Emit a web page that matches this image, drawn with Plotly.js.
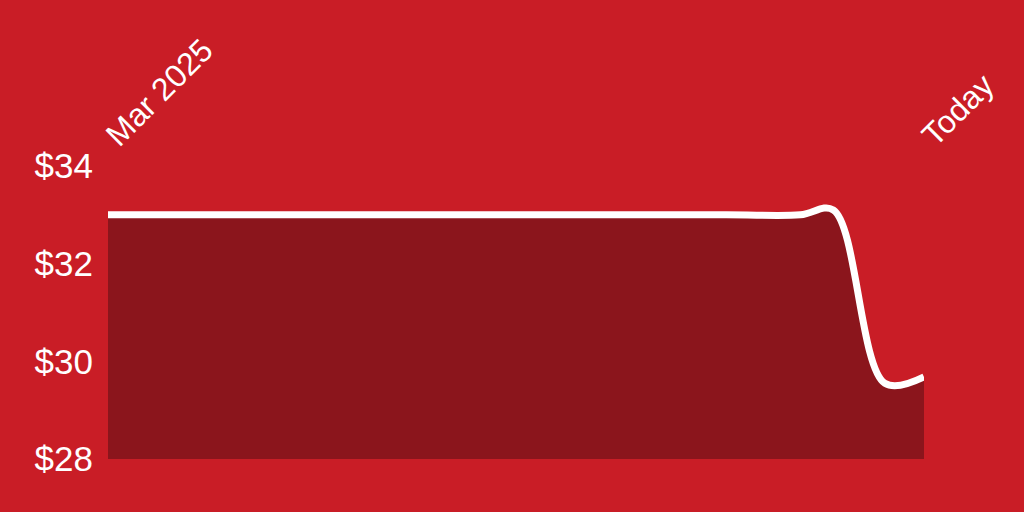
<!DOCTYPE html>
<html>
<head>
<meta charset="utf-8">
<script src="https://cdn.plot.ly/plotly-3.0.1.min.js"></script>
<style>
  html, body { margin: 0; padding: 0; background: #C91D26; }
  #chart { width: 1024px; height: 512px; }
</style>
</head>
<body>
<div id="chart"></div>
<script>
// days since Mar 2025 (x) and price in dollars (y)
var days = [0, 100, 200, 300, 336, 352, 377, 396];
var price = [33.0, 33.0, 33.0, 33.0, 33.0, 33.1, 29.55, 29.68];

var tickDays = [0, 396];
var tickText = ['Mar 2025', 'Today'];
var priceTicks = [28, 30, 32, 34];
var priceText = ['$28', '$30', '$32', '$34'];

var trace = {
  x: days,
  y: price,
  type: 'scatter',
  mode: 'lines',
  fill: 'tozeroy',
  fillcolor: '#8B151C',
  line: { color: '#ffffff', width: 7, shape: 'spline', smoothing: 1 },
  hoverinfo: 'skip'
};

var layout = {
  width: 1024,
  height: 512,
  paper_bgcolor: '#C91D26',
  plot_bgcolor: '#C91D26',
  showlegend: false,
  margin: { l: 108, r: 100, t: 166, b: 53 },
  font: { family: 'Liberation Sans, Arial, sans-serif', color: '#ffffff' },
  xaxis: {
    range: [0, 396],
    side: 'top',
    tickvals: tickDays,
    ticktext: tickText,
    tickangle: -45,
    tickfont: { size: 32, color: '#ffffff' },
    showgrid: false,
    zeroline: false,
    showline: false,
    ticks: '',
    ticklabelstandoff: 6
  },
  yaxis: {
    range: [28, 34],
    tickvals: priceTicks,
    ticktext: priceText,
    tickfont: { size: 35, color: '#ffffff' },
    showgrid: false,
    zeroline: false,
    showline: false,
    ticks: '',
    ticklabelstandoff: 14
  }
};

Plotly.newPlot('chart', [trace], layout, { displayModeBar: false, staticPlot: true });
</script>
</body>
</html>
